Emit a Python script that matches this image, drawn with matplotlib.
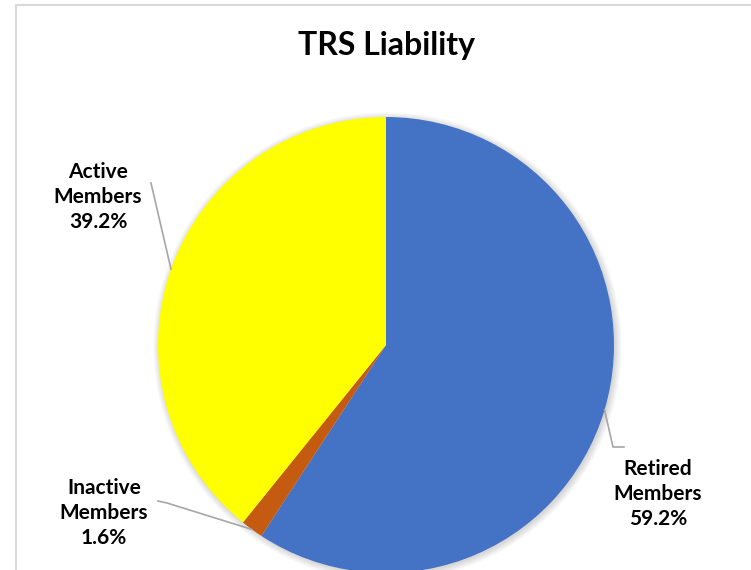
import numpy as np
import matplotlib
matplotlib.use("Agg")
import matplotlib.pyplot as plt
from matplotlib.patches import Circle

plt.rcParams['font.family'] = ['Lato', 'DejaVu Sans']

# data
categories = ["Retired\nMembers", "Inactive\nMembers", "Active\nMembers"]
shares = [59.2, 1.6, 39.2]
colors = ["#4472C4", "#C55A11", "#FFFF00"]
title = "TRS Liability"

W, H = 751, 570
fig = plt.figure(figsize=(W / 100, H / 100), dpi=100)
ax = fig.add_axes([0, 0, 1, 1])
ax.set_xlim(0, W)
ax.set_ylim(0, H)
ax.set_aspect('equal')
ax.axis('off')

# chart frame
ax.plot([16, 16, W + 5], [-5, H - 5, H - 5], color="#d9d9d9", lw=1.5, zorder=0)

cx, cy, R = 386, H - 345, 228

# soft shadow
for i in range(8):
    ax.add_patch(Circle((cx + 1.5, cy - 1.5), R + i * 0.9, color="black",
                        alpha=0.018, lw=0, zorder=1))

wedges, _ = ax.pie(shares, colors=colors, startangle=90, counterclock=False,
                   center=(cx, cy), radius=R, frame=True,
                   wedgeprops=dict(linewidth=0, zorder=2))
ax.set_xlim(0, W)
ax.set_ylim(0, H)
ax.axis('off')

ax.text(cx, H - 45, title, ha='center', va='center', fontsize=23,
        fontweight='bold', color='black')

# label positions (text centre) and leader elbow points, pixel layout
label_pos = [(658, H - 494), (104, H - 513), (98, H - 197)]
elbow = [[(613, H - 447), (624, H - 447)],
         [(167, H - 503), (158, H - 501)],
         [(151, H - 183)]]

for w, lab, v, (tx, ty), el in zip(wedges, categories, shares, label_pos, elbow):
    ang = np.deg2rad((w.theta1 + w.theta2) / 2)
    px, py = cx + R * np.cos(ang), cy + R * np.sin(ang)
    xs = [px] + [p[0] for p in el]
    ys = [py] + [p[1] for p in el]
    ax.plot(xs, ys, color="#a6a6a6", lw=1.2, zorder=3)
    ax.text(tx, ty, f"{lab}\n{v:.1f}%", ha='center', va='center',
            fontsize=15, fontweight='bold', linespacing=1.33, color='black')

fig.savefig("out.png", dpi=100)
